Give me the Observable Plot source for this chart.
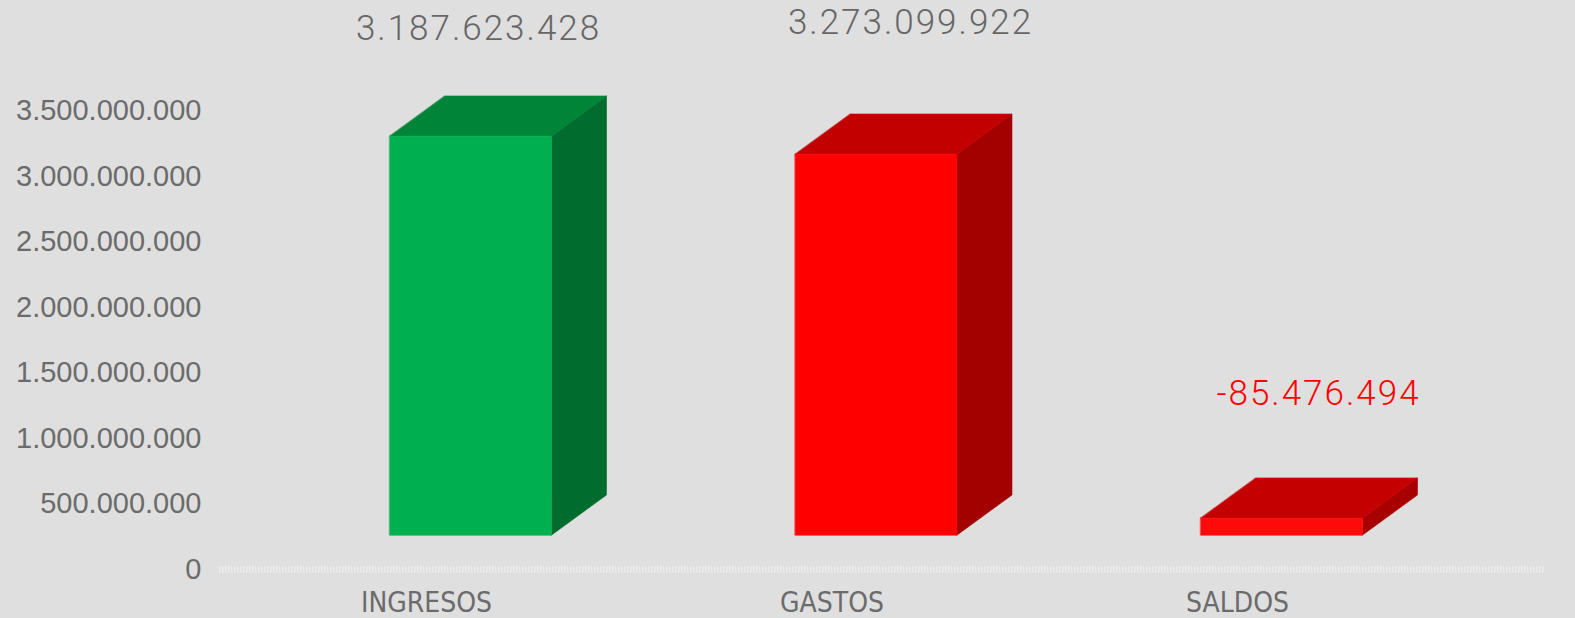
<!DOCTYPE html>
<html>
<head>
<meta charset="utf-8">
<script src="https://cdn.jsdelivr.net/npm/d3@7"></script>
<script src="https://cdn.jsdelivr.net/npm/@observablehq/plot@0.6"></script>
<style>
  html, body { margin: 0; padding: 0; background: #dfdfdf; }
  #chart svg { display: block; }
</style>
</head>
<body>
<div id="chart"></div>
<script>
// ---- data ----
const categories = ["INGRESOS", "GASTOS", "SALDOS"];
const values = [3187623428, 3273099922, -85476494];          // printed labels
const barTops = [3.308e9, 3.170e9, 0.392e9];                   // drawn height of front face (axis units)
const barBase = 0.262e9;                                       // drawn base of front face (axis units)
const yTicks = [0, 5e8, 1e9, 1.5e9, 2e9, 2.5e9, 3e9, 3.5e9];

// ---- styling ----
const palettes = [
  {front: "#00b050", top: "#008437", side: "#006c2e"},
  {front: "#ff0000", top: "#c20000", side: "#a30000"},
  {front: "#ff0a0a", top: "#c40000", side: "#a80000"}
];
const HALF = 0.1994, DEPTH_X = 0.136, DEPTH_Y = 0.307e9;
const AXIS_GREY = "#6b6b6b";

const fmt = d3.formatLocale({decimal: ",", thousands: ".", grouping: [3], currency: ["", ""], minus: "-"}).format(",d");

// build face polygons
const faces = [];
categories.forEach((c, i) => {
  const x0 = i - HALF, x1 = i + HALF, b = barBase, t = barTops[i];
  const p = palettes[i];
  const add = (face, pts) => pts.forEach(([x, y]) => faces.push({key: c + face, x, y, color: p[face]}));
  add("side", [[x1, b], [x1 + DEPTH_X, b + DEPTH_Y], [x1 + DEPTH_X, t + DEPTH_Y], [x1, t]]);
  add("top", [[x0, t], [x1, t], [x1 + DEPTH_X, t + DEPTH_Y], [x0 + DEPTH_X, t + DEPTH_Y]]);
  add("front", [[x0, b], [x1, b], [x1, t], [x0, t]]);
});

const labelMark = (i, dx, dy, fill) => Plot.text([i], {
  x: d => d, y: d => values[d], text: d => fmt(values[d]),
  dx, dy, fill, fontSize: 35, fontFamily: "Roboto", fontWeight: 300
});

const chart = Plot.plot({
  width: 1575,
  height: 618,
  marginLeft: 219,
  marginRight: 30,
  marginTop: 110,
  marginBottom: 49,
  style: {background: "#dfdfdf", fontFamily: "Liberation Sans, Arial, sans-serif", overflow: "visible"},
  x: {domain: [0, 2], range: [470, 1281], label: null},
  y: {domain: [0, 3.5e9], range: [569, 110.5], label: null},
  color: {type: "identity"},
  marks: [
    Plot.ruleY([0], {stroke: "#ececec", strokeWidth: 7, strokeDasharray: "1.5,1.5"}),
    Plot.axisY({ticks: yTicks, tickFormat: fmt, tickSize: 0, tickPadding: 18, label: null,
      fontSize: 29, fill: AXIS_GREY, stroke: AXIS_GREY, strokeWidth: 0.6,
      fontFamily: "Liberation Sans, Arial, sans-serif"}),
    Plot.axisX({ticks: [0, 1, 2], tickFormat: i => categories[i], tickSize: 0, tickPadding: 23, label: null,
      dx: -44, fontSize: 28, fill: AXIS_GREY, stroke: AXIS_GREY, strokeWidth: 0.5,
      fontFamily: "Liberation Sans Narrow, DejaVu Sans Condensed, sans-serif"}),
    Plot.line(faces, {x: "x", y: "y", z: "key", fill: "color", stroke: "color",
      strokeWidth: 0.6, curve: "linear-closed"}),
    labelMark(0, 8, -123, "#666666"),
    labelMark(1, 34.5, -118, "#666666"),
    labelMark(2, 37, -187, "#ff0000")
  ]
});
const labelTexts = values.map(fmt);
d3.select(chart).selectAll("text")
  .filter(function() { return labelTexts.includes(this.textContent); })
  .attr("letter-spacing", "2px");
document.getElementById("chart").append(chart);
</script>
</body>
</html>
